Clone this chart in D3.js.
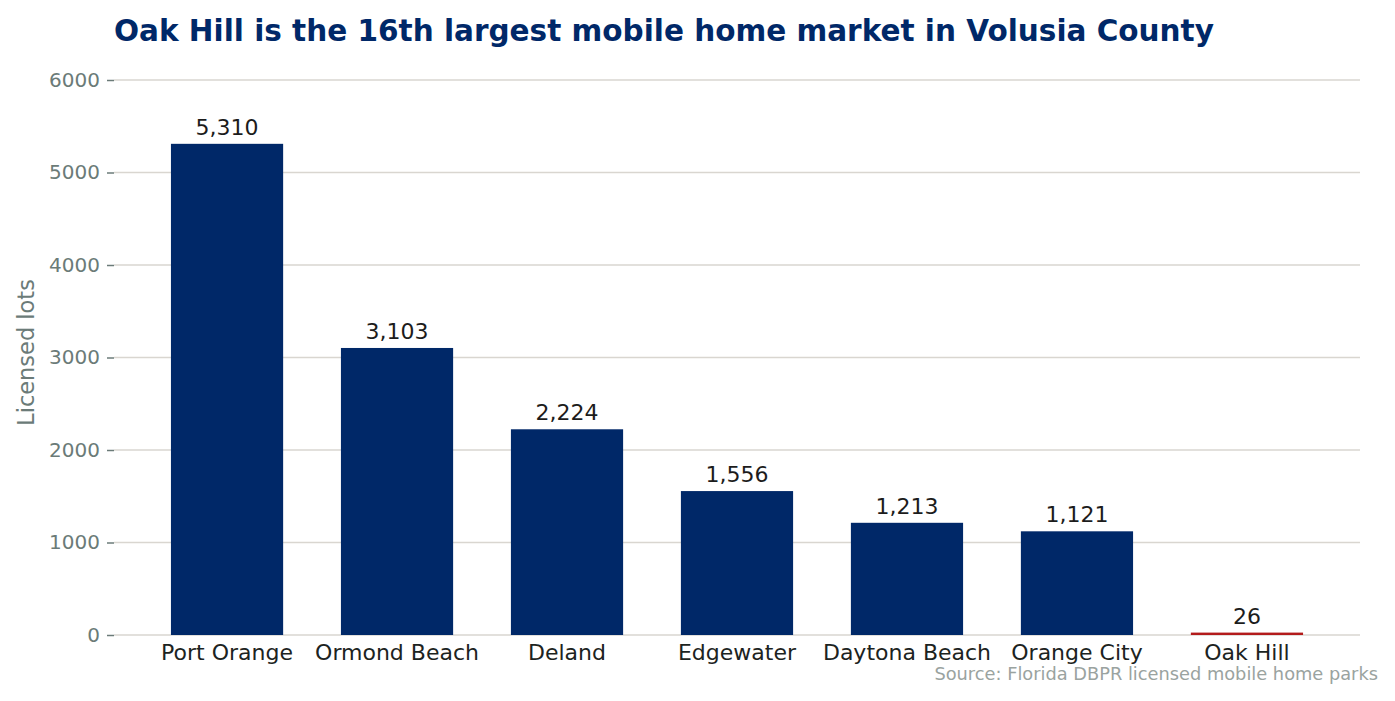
<!DOCTYPE html>
<html><head><meta charset="utf-8">
<script src="https://cdn.jsdelivr.net/npm/d3@7"></script>
<style>body{margin:0;background:#fff}svg{display:block}text{font-family:"DejaVu Sans",sans-serif}</style>
</head><body>
<svg id="c" width="1395" height="701"></svg>
<script>
const categories = ["Port Orange","Ormond Beach","Deland","Edgewater","Daytona Beach","Orange City","Oak Hill"];
const values = [5310,3103,2224,1556,1213,1121,26];
const highlight = "Oak Hill";
const yTicks = [0,1000,2000,3000,4000,5000,6000];
const titleText = "Oak Hill is the 16th largest mobile home market in Volusia County";
const yLabel = "Licensed lots";
const sourceText = "Source: Florida DBPR licensed mobile home parks";

const svg = d3.select("#c");
const L=114, R=1360, T=80, B=635;
const x = d3.scaleLinear().domain([-0.665, categories.length-1+0.665]).range([L,R]);
const y = d3.scaleLinear().domain([0,6000]).range([B,T]);
const bw = 0.66;

// grid
svg.append("g").selectAll("line").data(yTicks).join("line")
  .attr("x1",L).attr("x2",R).attr("y1",d=>y(d)).attr("y2",d=>y(d))
  .attr("stroke","#d9d6d0").attr("stroke-width",1.5);

// y axis
const ya = svg.append("g").attr("transform",`translate(${L},0)`)
  .call(d3.axisLeft(y).tickValues(yTicks).tickFormat(d3.format("d")).tickSize(7).tickPadding(7));
ya.select(".domain").remove();
ya.selectAll(".tick line").attr("stroke","#6b7b78").attr("stroke-width",1.5);
ya.selectAll(".tick text").attr("fill","#6b7b78").style("font-size","20px").style("font-family","DejaVu Sans");

// bars
svg.append("g").selectAll("rect").data(categories).join("rect")
  .attr("x",(d,i)=>x(i-bw/2)).attr("width",x(bw)-x(0))
  .attr("y",(d,i)=>y(values[i])).attr("height",(d,i)=>y(0)-y(values[i]))
  .attr("fill",d=>d===highlight?"#b31b1b":"#002868");

// value labels
svg.append("g").selectAll("text").data(categories).join("text")
  .attr("x",(d,i)=>x(i)).attr("y",(d,i)=>y(values[i])-9)
  .attr("text-anchor","middle").attr("fill","#1c1c1c").style("font-size","22px")
  .text((d,i)=>d3.format(",")(values[i]));

// x labels
svg.append("g").selectAll("text").data(categories).join("text")
  .attr("x",(d,i)=>x(i)).attr("y",B+25)
  .attr("text-anchor","middle").attr("fill","#1c2321").style("font-size","22px")
  .text(d=>d);

// title
svg.append("text").attr("x",L).attr("y",41).attr("fill","#002868")
  .style("font-size","29.5px").style("font-weight","bold").text(titleText);

// y label
svg.append("text").attr("transform",`translate(34,${(T+B)/2-5}) rotate(-90)`)
  .attr("text-anchor","middle").attr("fill","#6b7b78").style("font-size","22.5px").text(yLabel);

// source
svg.append("text").attr("x",1378).attr("y",680).attr("text-anchor","end")
  .attr("fill","#9aa3a0").style("font-size","17.8px").text(sourceText);
</script>
</body></html>
